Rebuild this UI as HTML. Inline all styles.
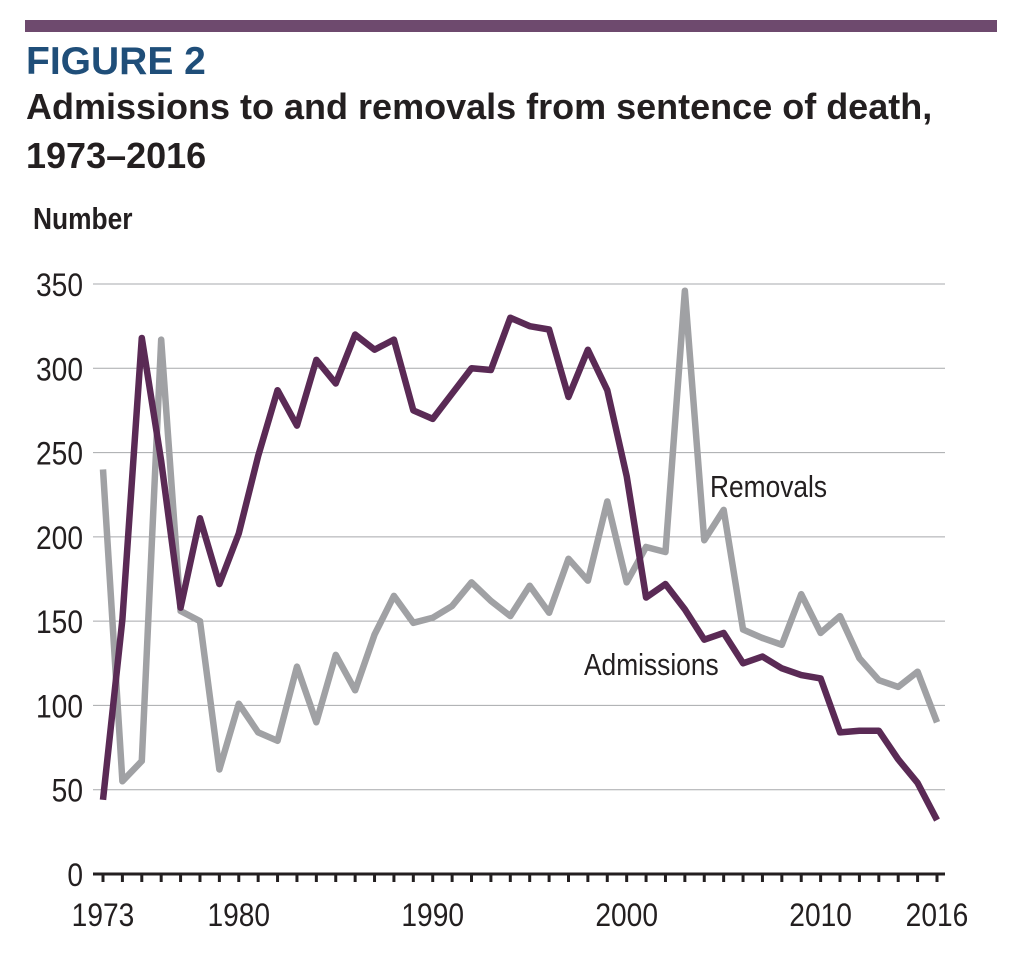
<!DOCTYPE html>
<html><head><meta charset="utf-8"><style>
body{margin:0;background:#fff;width:1014px;height:950px;overflow:hidden}
svg text{font-family:"Liberation Sans Narrow","Liberation Sans",sans-serif}
</style></head><body>
<svg id="s" width="1014" height="950" xmlns="http://www.w3.org/2000/svg">
<rect x="25" y="20" width="972" height="12" fill="#6e4a6e"/>
<text x="26" y="74" font-weight="bold" font-size="39" fill="#1f4e79" style="font-family:'Liberation Sans',sans-serif">FIGURE 2</text>
<text x="26" y="119" font-weight="bold" font-size="36" fill="#231f20" style="font-family:'Liberation Sans',sans-serif">Admissions to and removals from sentence of death,</text>
<text x="26" y="168" font-weight="bold" font-size="36" fill="#231f20" style="font-family:'Liberation Sans',sans-serif">1973–2016</text>
<text x="33" y="229" font-weight="bold" font-size="31" fill="#231f20" transform="translate(33 0) scale(0.85 1) translate(-33 0)">Number</text>
<g id="g"></g>
<text x="710" y="497" font-size="31" fill="#231f20" transform="translate(710 0) scale(0.85 1) translate(-710 0)">Removals</text>
<text x="584" y="675" font-size="31" fill="#231f20" transform="translate(584 0) scale(0.85 1) translate(-584 0)">Admissions</text>
</svg>
<script>
var A=[44,151,318,245,158,211,172,202,248,287,266,305,291,320,311,317,275,270,285,300,299,330,325,323,283,311,287,236,164,172,157,139,143,125,129,122,118,116,84,85,85,68,54,32];
var R=[240,55,67,317,156,150,62,101,84,79,123,90,130,109,142,165,149,152,159,173,162,153,171,155,187,174,221,173,194,191,346,198,216,145,140,136,166,143,153,128,115,111,120,90];
function X(i){return 103+i*834/43}function Y(v){return 874-v*590/350}
var h='';
for(var v=50;v<=350;v+=50){h+='<line x1="93" x2="945" y1="'+Y(v)+'" y2="'+Y(v)+'" stroke="#a7a9ac" stroke-width="1"/>';}
for(var v=0;v<=350;v+=50){h+='<text x="83" y="'+(Y(v)+12)+'" font-size="32" text-anchor="end" fill="#231f20" transform="translate(83 0) scale(0.88 1) translate(-83 0)">'+v+'</text>';}
h+='<line x1="93" x2="945" y1="874" y2="874" stroke="#231f20" stroke-width="3"/>';
for(var i=0;i<44;i++)h+='<line x1="'+X(i)+'" x2="'+X(i)+'" y1="874" y2="882" stroke="#231f20" stroke-width="3"/>';
[[0,'1973'],[7,'1980'],[17,'1990'],[27,'2000'],[37,'2010'],[43,'2016']].forEach(function(t){var x=X(t[0]);h+='<text x="'+x+'" y="926" font-size="32" text-anchor="middle" fill="#231f20" transform="translate('+x+' 0) scale(0.88 1) translate('+(-x)+' 0)">'+t[1]+'</text>';});
function pl(d,c){return '<polyline fill="none" stroke="'+c+'" stroke-width="6.5" stroke-linejoin="round" points="'+d.map(function(v,i){return X(i)+','+Y(v)}).join(' ')+'"/>';}
h+=pl(R,'#a0a1a4')+pl(A,'#5a2a55');
document.getElementById('g').innerHTML=h;
</script>
</body></html>
